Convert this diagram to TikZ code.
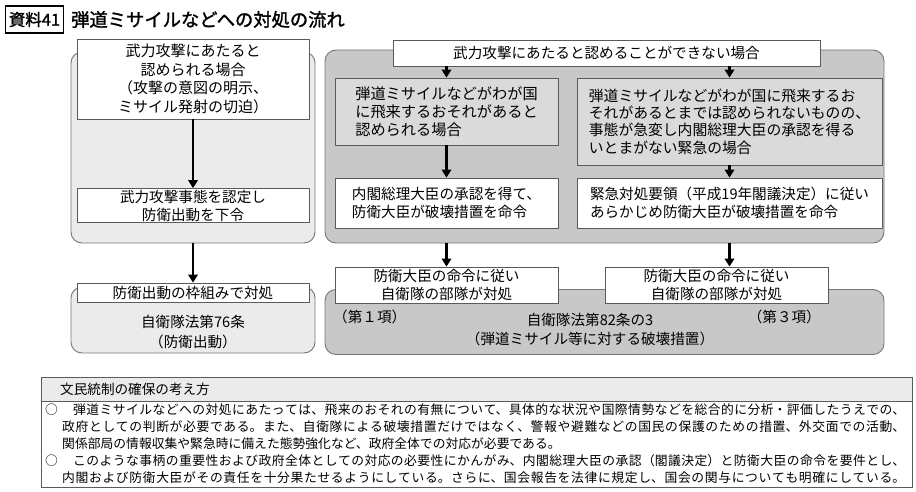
\documentclass[tikz,border=0pt]{standalone}
\usepackage{fontspec}
\setmainfont{Noto Sans CJK JP}
\newfontfamily\titlefont[FakeBold=1.5]{Noto Sans CJK JP}
\usetikzlibrary{arrows.meta}
\XeTeXlinebreaklocale "ja"
\XeTeXlinebreakskip=0pt plus 4pt
\definecolor{lightfill}{HTML}{EBEBEB}
\definecolor{grpfill}{HTML}{C8C8C8}
\definecolor{midfill}{HTML}{DADADA}
\definecolor{edgec}{HTML}{5A5A5A}
\definecolor{grpedge}{HTML}{777777}
\newcommand{\fsz}[2]{\fontsize{#1}{#2}\selectfont}
\newcommand{\jline}[2]{\parbox{#1}{\parfillskip=0pt\relax #2}}
\tikzset{
  grp/.style={draw=grpedge, line width=0.9pt, rounded corners=11pt, inner sep=0pt},
  lightgrp/.style={grp, fill=lightfill},
  darkgrp/.style={grp, fill=grpfill},
  wbox/.style={draw=edgec, line width=0.8pt, fill=white, inner sep=0pt, align=center, font=\fsz{14.6}{18}},
  gbox/.style={wbox, fill=midfill},
  arr/.style={line width=2.3pt, -{Triangle[length=8pt,width=9.5pt]}},
  lbl/.style={inner sep=0pt, align=center, font=\fsz{14.6}{19}},
  body/.style={inner sep=0pt, anchor=west, font=\fsz{12.8}{17}},
}
\begin{document}
\begin{tikzpicture}[x=1pt, y=-1pt]
\path[fill=white] (0,0) rectangle (916,492);
\useasboundingbox (0,0) rectangle (916,492);

% title
\node[draw=black, line width=1.1pt, minimum width=58pt, minimum height=27pt, inner sep=0pt, font=\titlefont\fsz{16.5}{18}] (T0) at (34.5,19.5) {資料41};
\node[anchor=west, inner sep=0pt, font=\titlefont\fsz{18.3}{20}] (T1) at (71,19.5) {弾道ミサイルなどへの対処の流れ};

% groups
\node[lightgrp, minimum width=244pt, minimum height=191pt] (LG) at (193,147.5) {};
\node[lightgrp, minimum width=244pt, minimum height=66pt] (LB) at (193,320) {};
\node[darkgrp, minimum width=559pt, minimum height=193pt] (RG) at (604.5,146.5) {};
\node[darkgrp, minimum width=559pt, minimum height=65pt] (RB) at (604.5,322) {};

% left column
\node[wbox, minimum width=232pt, minimum height=80pt, font=\fsz{15}{18.8}] (A1) at (193,79)
  {武力攻撃にあたると\\認められる場合\\（攻撃の意図の明示、\\ミサイル発射の切迫）};
\node[wbox, minimum width=232pt, minimum height=34pt] (A2) at (193,205.5)
  {武力攻撃事態を認定し\\防衛出動を下令};
\node[wbox, minimum width=232pt, minimum height=19pt] (A3) at (193,292.5)
  {防衛出動の枠組みで対処};
\node[lbl, font=\fsz{14.6}{20}] (LBt) at (193,332) {自衛隊法第76条\\（防衛出動）};

% right column
\node[wbox, minimum width=427pt, minimum height=26pt] (H) at (606.5,53)
  {武力攻撃にあたると認めることができない場合};
\node[gbox, align=left, minimum width=223pt, minimum height=67pt, font=\fsz{15.2}{18}] (B1) at (446.5,111.5)
  {弾道ミサイルなどがわが国\\に飛来するおそれがあると\\認められる場合};
\node[gbox, align=left, minimum width=305pt, minimum height=87pt, font=\fsz{14.8}{17.3}] (C1) at (729.5,121.5)
  {弾道ミサイルなどがわが国に飛来するお\\それがあるとまでは認められないものの、\\事態が急変し内閣総理大臣の承認を得る\\いとまがない緊急の場合};
\node[wbox, align=left, minimum width=223pt, minimum height=50pt] (B2) at (446.5,203)
  {内閣総理大臣の承認を得て、\\防衛大臣が破壊措置を命令};
\node[wbox, align=left, minimum width=305pt, minimum height=50pt] (C2) at (729.5,203)
  {緊急対処要領（平成19年閣議決定）に従い\\あらかじめ防衛大臣が破壊措置を命令};
\node[wbox, minimum width=223pt, minimum height=36pt] (D1) at (446.5,285)
  {防衛大臣の命令に従い\\自衛隊の部隊が対処};
\node[wbox, minimum width=223pt, minimum height=36pt] (D2) at (716.5,285)
  {防衛大臣の命令に従い\\自衛隊の部隊が対処};
\node[lbl, anchor=west] (P1) at (333,317) {（第１項）};
\node[lbl, anchor=east] (P3) at (821,317) {（第３項）};
\node[lbl] (L82) at (590,320) {自衛隊法第82条の3};
\node[lbl] (L82b) at (590,339) {（弾道ミサイル等に対する破壊措置）};

% arrows
\draw[arr] (A1.south) -- (A2.north);
\draw[arr] (LG.south) -- (A3.north);
\draw[arr] (B1.north |- H.south) -- (B1.north);
\draw[arr] (C1.north |- H.south) -- (C1.north);
\draw[arr] (B1.south) -- (B2.north);
\draw[arr] (C1.south) -- (C2.north);
\draw[arr] (D1.north |- RG.south) -- (D1.north);
\draw[arr] (C2.south |- RG.south) -- (C2.south |- D2.north);

% bottom note box
\node[draw=edgec, line width=0.9pt, fill=white, minimum width=871pt, minimum height=110pt, inner sep=0pt] (NB) at (476.5,432) {};
\node[draw=edgec, line width=0.9pt, fill=lightfill, minimum width=871pt, minimum height=24pt, inner sep=0pt] (NH) at (476.5,389) {};
\node[body, font=\fsz{13.6}{17}] (NHt) at (60,389) {文民統制の確保の考え方};
\node[body] (O1) at (45,410) {○};
\node[body] (N1) at (73,410) {\jline{832pt}{弾道ミサイルなどへの対処にあたっては、飛来のおそれの有無について、具体的な状況や国際情勢などを総合的に分析・評価したうえでの、}};
\node[body] (N2) at (62,427) {\jline{843pt}{政府としての判断が必要である。また、自衛隊による破壊措置だけではなく、警報や避難などの国民の保護のための措置、外交面での活動、}};
\node[body] (N3) at (62,444) {関係部局の情報収集や緊急時に備えた態勢強化など、政府全体での対応が必要である。};
\node[body] (O2) at (45,461) {○};
\node[body] (N4) at (73,461) {\jline{832pt}{このような事柄の重要性および政府全体としての対応の必要性にかんがみ、内閣総理大臣の承認（閣議決定）と防衛大臣の命令を要件とし、}};
\node[body] (N5) at (62,478) {\jline{843pt}{内閣および防衛大臣がその責任を十分果たせるようにしている。さらに、国会報告を法律に規定し、国会の関与についても明確にしている。}};
\end{tikzpicture}
\end{document}
